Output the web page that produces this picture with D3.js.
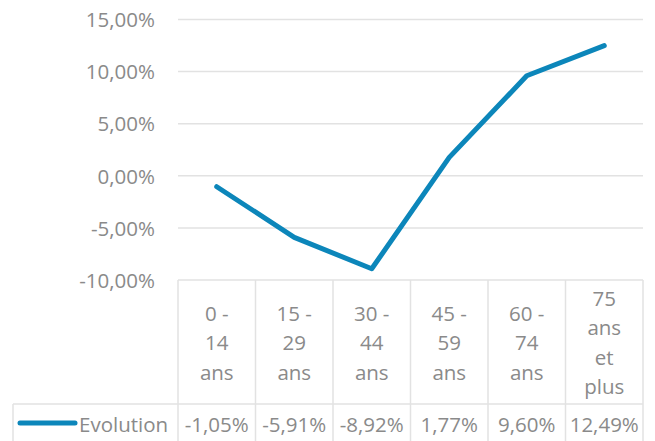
<!DOCTYPE html>
<html>
<head>
<meta charset="utf-8">
<script src="https://cdn.jsdelivr.net/npm/d3@7"></script>
<style>
  body { margin: 0; background: #fff; }
  text { font-family: "Open Sans", sans-serif; fill: #8a8a8a; }
</style>
</head>
<body>
<div id="chart"></div>
<script>
var width = 655, height = 441

// age groups, each label split the way the table wraps it
var categories = ["0 - 14 ans", "15 - 29 ans", "30 - 44 ans", "45 - 59 ans", "60 - 74 ans", "75 ans et plus"]
var catLines = [["0 -", "14", "ans"], ["15 -", "29", "ans"], ["30 -", "44", "ans"], ["45 -", "59", "ans"], ["60 -", "74", "ans"], ["75", "ans", "et", "plus"]]
var values = [-1.05, -5.91, -8.92, 1.77, 9.60, 12.49]
var yTicks = [-10, -5, 0, 5, 10, 15]
var seriesName = "Evolution"

var color = "#0c86ba"
var grid = "#e2e2e2"
var fs = 20.5

var fmt = function (v, d) { return d3.format("." + d + "f")(v).replace(".", ",").replace("−", "-") + "%" }

var svg = d3.select("#chart").append("svg")
  .attr("width", width)
  .attr("height", height)

var x = d3.scaleBand()
  .domain(categories)
  .range([178, 643])
  .padding(0)

var y = d3.scaleLinear()
  .domain([-10, 15])
  .range([280, 19.5])

// gridlines
svg.selectAll(".grid")
  .data(yTicks)
  .enter().append("line")
  .attr("x1", 178)
  .attr("x2", 643)
  .attr("y1", d => y(d))
  .attr("y2", d => y(d))
  .attr("stroke", grid)
  .attr("stroke-width", 1.5)

svg.selectAll(".ylab")
  .data(yTicks)
  .enter().append("text")
  .attr("x", 155)
  .attr("y", d => y(d))
  .attr("dy", "0.38em")
  .attr("text-anchor", "end")
  .style("font-size", fs + "px")
  .text(d => fmt(d, 2))

// data table
var rowSplit = 404, tableBottom = 446
var edges = categories.map(c => x(c)).concat([x.range()[1]])

svg.selectAll(".vline")
  .data(edges)
  .enter().append("line")
  .attr("x1", d => d)
  .attr("x2", d => d)
  .attr("y1", y(-10))
  .attr("y2", tableBottom)
  .attr("stroke", grid)
  .attr("stroke-width", 1.5)

svg.append("line")
  .attr("x1", 13).attr("x2", 643)
  .attr("y1", rowSplit).attr("y2", rowSplit)
  .attr("stroke", grid).attr("stroke-width", 1.5)

svg.append("line")
  .attr("x1", 13).attr("x2", 13)
  .attr("y1", rowSplit).attr("y2", tableBottom)
  .attr("stroke", grid).attr("stroke-width", 1.5)

var lh = 29.5
categories.forEach(function (c, i) {
  var lines = catLines[i]
  var t = svg.append("text")
    .attr("text-anchor", "middle")
    .style("font-size", fs + "px")
  lines.forEach(function (l, j) {
    t.append("tspan")
      .attr("x", x(c) + x.bandwidth() / 2)
      .attr("y", 350 + (j - (lines.length - 1) / 2) * lh)
      .text(l)
  })
})

svg.selectAll(".val")
  .data(values)
  .enter().append("text")
  .attr("x", (d, i) => x(categories[i]) + x.bandwidth() / 2)
  .attr("y", 432)
  .attr("text-anchor", "middle")
  .style("font-size", fs + "px")
  .text(d => fmt(d, 2))

// legend key
svg.append("line")
  .attr("x1", 20).attr("x2", 75)
  .attr("y1", 423).attr("y2", 423)
  .attr("stroke", color)
  .attr("stroke-width", 5)
  .attr("stroke-linecap", "round")

svg.append("text")
  .attr("x", 79)
  .attr("y", 432)
  .style("font-size", fs + "px")
  .text(seriesName)

// series line
var line = d3.line()
  .x((d, i) => x(categories[i]) + x.bandwidth() / 2)
  .y(d => y(d))

svg.append("path")
  .datum(values)
  .attr("d", line)
  .attr("fill", "none")
  .attr("stroke", color)
  .attr("stroke-width", 5)
  .attr("stroke-linejoin", "round")
  .attr("stroke-linecap", "round")
</script>
</body>
</html>
